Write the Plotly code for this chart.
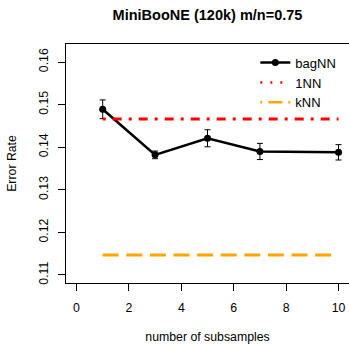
import plotly.graph_objects as go

# bagged nearest-neighbour error vs number of subsamples
subsamples = [1, 3, 5, 7, 10]
bag_err = [0.1489, 0.1382, 0.1421, 0.1390, 0.1388]
bag_sd = [0.0022, 0.0009, 0.0020, 0.0019, 0.0018]

# baselines, drawn across the subsample range
nn1_err = 0.1466
knn_err = 0.1147

x_ticks = [0, 2, 4, 6, 8, 10]
y_ticks = [0.11, 0.12, 0.13, 0.14, 0.15, 0.16]

FONT = "Liberation Sans, Arial, sans-serif"
x_span = [min(subsamples), max(subsamples)]

fig = go.Figure()

fig.add_trace(go.Scatter(
    x=subsamples, y=bag_err, mode="lines+markers", name="bagNN",
    line=dict(color="black", width=2.6),
    marker=dict(color="black", size=7),
    error_y=dict(type="data", array=bag_sd, visible=True,
                 color="black", thickness=1, width=3),
))
fig.add_trace(go.Scatter(
    x=x_span, y=[nn1_err, nn1_err], mode="lines", name="1NN",
    showlegend=False,
    line=dict(color="red", width=3, dash="3px,7px,9px,7px"),
))
fig.add_trace(go.Scatter(
    x=x_span, y=[knn_err, knn_err], mode="lines", name="kNN",
    showlegend=False,
    line=dict(color="orange", width=3, dash="16px,7.6px"),
))
# legend keys for the two baselines
fig.add_trace(go.Scatter(
    x=[None], y=[None], mode="lines", name="1NN",
    line=dict(color="red", width=2.5, dash="2px,8px"),
))
fig.add_trace(go.Scatter(
    x=[None], y=[None], mode="lines", name="kNN",
    line=dict(color="orange", width=2.5, dash="2px,6px,14px,6px,2px,100px"),
))

fig.update_layout(
    width=349, height=344,
    margin=dict(l=66, r=0, t=44, b=61),
    paper_bgcolor="white", plot_bgcolor="white",
    font=dict(family=FONT, size=12.3, color="black"),
    title=dict(text="<b>MiniBooNE (120k) m/n=0.75</b>",
               font=dict(size=14.5, family=FONT),
               x=(66 + 349) / 2 / 349, xanchor="center",
               y=1 - 15 / 344, yanchor="middle"),
    showlegend=True,
    legend=dict(x=0.669, y=0.985, xanchor="left", yanchor="top",
                bgcolor="rgba(0,0,0,0)", borderwidth=0,
                font=dict(size=13, family=FONT)),
    xaxis=dict(
        range=[-0.4, 10.4], tickvals=x_ticks, ticktext=[str(t) for t in x_ticks],
        showgrid=False, zeroline=False,
        showline=True, linecolor="black", linewidth=1, mirror=True,
        ticks="outside", ticklen=7, tickcolor="black", tickwidth=1,
        ticklabelstandoff=6,
        title=dict(text="number of subsamples", standoff=18,
                   font=dict(size=12.3, family=FONT)),
    ),
    yaxis=dict(
        range=[0.10812, 0.16423], tickvals=y_ticks,
        ticktext=[f"{t:.2f}" for t in y_ticks],
        tickangle=-90,
        showgrid=False, zeroline=False,
        showline=True, linecolor="black", linewidth=1,
        ticks="outside", ticklen=7, tickcolor="black", tickwidth=1,
        ticklabelstandoff=5,
        title=dict(text="Error Rate", standoff=17,
                   font=dict(size=12.3, family=FONT)),
    ),
)

fig.write_html("out.html")
